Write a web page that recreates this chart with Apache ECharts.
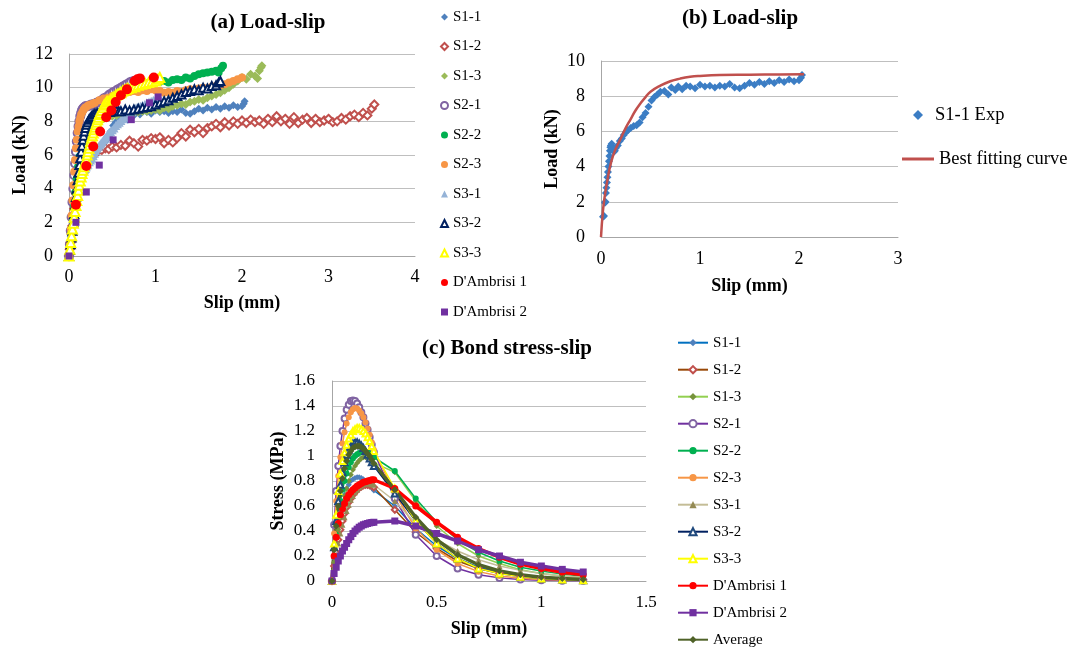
<!DOCTYPE html>
<html>
<head>
<meta charset="utf-8">
<script src="https://cdn.jsdelivr.net/npm/echarts@6/dist/echarts.min.js"></script>
<style>
html,body{margin:0;padding:0;background:#fff;}
#chart{width:1070px;height:648px;}
</style>
</head>
<body>
<div id="chart"></div>
<script>
// ---------- (a) & (b) Load-slip data : [slip (mm), load (kN)] ----------
const loadS1_1 = [[0.02,1.15],[0.03,1.2],[0.04,1.95],[0.045,2.0],[0.05,2.5],[0.055,2.8],[0.06,3.1],[0.065,3.4],[0.07,3.7],[0.075,4.0],[0.08,4.3],[0.085,4.6],[0.09,4.9],[0.095,5.1],[0.1,5.2],[0.108,5.3],[0.12,5.0],[0.13,4.85],[0.14,4.9],[0.15,5.05],[0.17,5.2],[0.19,5.45],[0.21,5.6],[0.23,5.8],[0.25,5.95],[0.27,6.05],[0.3,6.2],[0.33,6.3],[0.36,6.35],[0.39,6.5],[0.42,6.8],[0.45,7.05],[0.48,7.4],[0.51,7.75],[0.54,7.95],[0.57,8.1],[0.6,8.25],[0.64,8.3],[0.68,8.1],[0.71,8.5],[0.75,8.35],[0.78,8.55],[0.82,8.4],[0.86,8.6],[0.9,8.55],[0.95,8.45],[1.0,8.65],[1.05,8.55],[1.1,8.6],[1.15,8.5],[1.2,8.6],[1.25,8.55],[1.3,8.7],[1.35,8.5],[1.4,8.45],[1.45,8.6],[1.5,8.75],[1.55,8.65],[1.6,8.8],[1.65,8.7],[1.7,8.85],[1.75,8.75],[1.8,8.9],[1.85,8.8],[1.9,8.95],[1.95,8.85],[2.0,8.9],[2.02,9.05],[2.03,9.2]];
const loadS1_2 = [[0,0],[0.01,0.4],[0.02,0.8],[0.03,1.3],[0.04,1.8],[0.05,2.3],[0.06,2.8],[0.07,3.25],[0.08,3.7],[0.09,4.1],[0.1,4.5],[0.11,4.8],[0.12,5.1],[0.135,5.35],[0.15,5.6],[0.165,5.75],[0.18,5.9],[0.2,5.95],[0.22,6.0],[0.24,6.1],[0.26,6.1],[0.28,6.0],[0.3,6.05],[0.32,6.2],[0.34,6.25],[0.38,6.3],[0.42,6.4],[0.46,6.35],[0.5,6.5],[0.55,6.45],[0.6,6.6],[0.65,6.55],[0.7,6.85],[0.75,6.7],[0.8,6.5],[0.85,6.9],[0.9,6.85],[0.95,7.0],[1.0,6.95],[1.05,7.05],[1.1,6.7],[1.15,6.9],[1.2,6.75],[1.25,7.0],[1.3,7.3],[1.35,7.1],[1.4,7.5],[1.45,7.35],[1.5,7.55],[1.55,7.3],[1.6,7.6],[1.65,7.7],[1.7,7.85],[1.75,7.65],[1.8,7.95],[1.85,7.75],[1.9,8.0],[1.95,7.85],[2.0,8.05],[2.05,7.9],[2.1,8.1],[2.15,7.95],[2.2,8.05],[2.25,7.85],[2.3,8.15],[2.35,7.95],[2.4,8.3],[2.45,8.0],[2.5,8.15],[2.55,7.85],[2.6,8.25],[2.65,7.9],[2.7,8.1],[2.75,8.2],[2.8,7.9],[2.85,8.15],[2.9,7.95],[2.95,8.05],[3.0,8.15],[3.05,7.95],[3.1,8.0],[3.15,8.2],[3.2,8.1],[3.25,8.3],[3.3,8.4],[3.35,8.25],[3.4,8.5],[3.45,8.35],[3.5,8.75],[3.53,9.0]];
const loadS1_3 = [[0,0],[0.015,0.7],[0.03,1.5],[0.045,2.3],[0.06,3.2],[0.075,4.0],[0.09,4.8],[0.105,5.4],[0.12,6.0],[0.135,6.4],[0.15,6.8],[0.175,7.1],[0.2,7.3],[0.225,7.45],[0.25,7.6],[0.275,7.7],[0.3,7.8],[0.325,7.9],[0.35,8.0],[0.375,8.1],[0.4,8.15],[0.45,8.25],[0.5,8.3],[0.55,8.35],[0.6,8.4],[0.65,8.45],[0.7,8.45],[0.75,8.5],[0.8,8.55],[0.85,8.6],[0.9,8.6],[0.95,8.65],[1.0,8.7],[1.05,8.65],[1.1,8.8],[1.15,8.75],[1.2,8.9],[1.25,8.95],[1.3,9.05],[1.35,9.0],[1.4,9.15],[1.45,9.2],[1.5,9.3],[1.55,9.25],[1.6,9.4],[1.65,9.5],[1.7,9.6],[1.75,9.7],[1.8,9.85],[1.85,10.0],[1.9,10.2],[1.95,10.4],[2.0,10.6],[2.05,10.5],[2.1,10.8],[2.15,10.7],[2.18,10.55],[2.2,11.0],[2.22,11.2],[2.23,11.3]];
const loadS2_1 = [[0,0],[0.01,0.7],[0.02,1.5],[0.03,2.3],[0.04,3.2],[0.05,4.0],[0.06,4.8],[0.07,5.5],[0.08,6.2],[0.09,6.8],[0.1,7.3],[0.11,7.7],[0.12,8.0],[0.13,8.3],[0.14,8.5],[0.15,8.65],[0.16,8.75],[0.17,8.8],[0.18,8.85],[0.19,8.9],[0.2,8.9],[0.22,8.9],[0.24,8.95],[0.26,9.0],[0.28,9.0],[0.3,9.05],[0.32,9.1],[0.34,9.15],[0.36,9.2],[0.38,9.25],[0.4,9.35],[0.42,9.4],[0.45,9.5],[0.47,9.6],[0.5,9.7],[0.52,9.75],[0.55,9.85],[0.57,9.9],[0.6,10.0],[0.62,10.05],[0.65,10.15],[0.67,10.2],[0.7,10.3],[0.72,10.35],[0.75,10.4]];
const loadS2_2 = [[0,0],[0.015,0.7],[0.03,1.4],[0.045,2.2],[0.06,3.0],[0.075,3.8],[0.09,4.6],[0.105,5.3],[0.12,5.9],[0.135,6.4],[0.15,6.8],[0.165,7.1],[0.18,7.3],[0.195,7.45],[0.21,7.6],[0.23,7.7],[0.25,7.8],[0.275,7.9],[0.3,8.0],[0.325,8.15],[0.35,8.3],[0.375,8.5],[0.4,8.7],[0.425,8.85],[0.45,9.0],[0.475,9.15],[0.5,9.3],[0.525,9.4],[0.55,9.5],[0.575,9.6],[0.6,9.7],[0.625,9.8],[0.65,9.85],[0.675,9.9],[0.7,9.95],[0.725,10.0],[0.75,10.05],[0.775,10.1],[0.8,10.1],[0.85,10.15],[0.9,10.25],[0.95,10.2],[1.0,10.3],[1.05,10.35],[1.1,10.4],[1.15,10.3],[1.2,10.45],[1.25,10.5],[1.3,10.45],[1.35,10.6],[1.4,10.55],[1.45,10.7],[1.5,10.8],[1.55,10.85],[1.6,10.9],[1.65,10.95],[1.7,11.0],[1.73,10.9],[1.76,11.15],[1.78,11.3]];
const loadS2_3 = [[0,0],[0.01,0.8],[0.02,1.6],[0.03,2.4],[0.04,3.3],[0.05,4.2],[0.06,5.0],[0.07,5.7],[0.08,6.4],[0.09,6.9],[0.1,7.4],[0.11,7.7],[0.12,8.0],[0.13,8.2],[0.14,8.4],[0.155,8.55],[0.17,8.7],[0.185,8.8],[0.2,8.85],[0.225,8.95],[0.25,9.0],[0.275,9.05],[0.3,9.1],[0.35,9.25],[0.4,9.35],[0.45,9.4],[0.5,9.5],[0.55,9.55],[0.6,9.6],[0.65,9.7],[0.7,9.75],[0.75,9.8],[0.8,9.75],[0.85,9.85],[0.9,9.8],[0.95,9.9],[1.0,9.85],[1.05,9.8],[1.1,9.7],[1.15,9.75],[1.2,9.7],[1.25,9.8],[1.3,9.75],[1.35,9.85],[1.4,9.9],[1.45,9.85],[1.5,9.95],[1.55,10.0],[1.6,9.95],[1.65,10.05],[1.7,10.1],[1.75,10.15],[1.8,10.2],[1.85,10.3],[1.9,10.4],[1.95,10.5],[2.0,10.6]];
const loadS3_1 = [[0,0],[0.01,0.4],[0.02,0.8],[0.03,1.25],[0.04,1.7],[0.05,2.15],[0.06,2.6],[0.07,3.0],[0.08,3.4],[0.09,3.7],[0.1,4.0],[0.11,4.25],[0.12,4.5],[0.13,4.65],[0.14,4.8],[0.15,4.9],[0.16,5.0],[0.17,5.1],[0.18,5.15],[0.19,5.2],[0.2,5.3],[0.21,5.4],[0.22,5.45],[0.235,5.6],[0.25,5.7],[0.265,5.8],[0.28,5.95],[0.295,6.1],[0.31,6.25],[0.325,6.4],[0.34,6.5],[0.355,6.6],[0.37,6.7],[0.385,6.8],[0.4,6.9],[0.415,7.0],[0.43,7.1],[0.445,7.2],[0.46,7.3],[0.48,7.4],[0.5,7.5],[0.52,7.6],[0.54,7.75],[0.56,7.85],[0.58,7.95],[0.6,8.05],[0.62,8.15],[0.64,8.25],[0.66,8.35],[0.68,8.4],[0.7,8.5],[0.725,8.6],[0.75,8.7],[0.775,8.8],[0.8,8.85],[0.825,8.9],[0.85,8.95],[0.875,9.0],[0.9,9.1],[0.925,9.15],[0.95,9.2],[0.975,9.25],[1.0,9.3],[1.025,9.35],[1.05,9.4]];
const loadS3_2 = [[0,0],[0.01,0.35],[0.02,0.7],[0.03,1.1],[0.04,1.5],[0.05,2.0],[0.06,2.5],[0.07,3.0],[0.08,3.5],[0.09,4.0],[0.1,4.5],[0.11,4.95],[0.12,5.4],[0.13,5.8],[0.14,6.2],[0.15,6.55],[0.16,6.9],[0.17,7.15],[0.18,7.4],[0.19,7.6],[0.2,7.8],[0.215,7.95],[0.23,8.1],[0.245,8.2],[0.26,8.3],[0.28,8.4],[0.3,8.45],[0.325,8.5],[0.35,8.5],[0.375,8.5],[0.4,8.55],[0.425,8.6],[0.45,8.6],[0.475,8.55],[0.5,8.6],[0.525,8.65],[0.55,8.65],[0.575,8.6],[0.6,8.6],[0.65,8.7],[0.7,8.65],[0.75,8.7],[0.8,8.75],[0.85,8.8],[0.9,8.85],[0.95,8.9],[1.0,9.0],[1.05,9.1],[1.1,9.2],[1.15,9.25],[1.2,9.4],[1.25,9.5],[1.3,9.6],[1.35,9.75],[1.4,9.8],[1.45,9.9],[1.5,9.85],[1.55,10.0],[1.6,9.95],[1.65,10.1],[1.7,10.15],[1.73,10.3],[1.75,10.4]];
const loadS3_3 = [[0,0],[0.01,0.4],[0.02,0.8],[0.03,1.2],[0.04,1.6],[0.05,1.95],[0.06,2.3],[0.07,2.65],[0.08,3.0],[0.09,3.3],[0.1,3.6],[0.11,3.9],[0.12,4.2],[0.13,4.45],[0.14,4.7],[0.15,4.9],[0.16,5.1],[0.17,5.3],[0.18,5.45],[0.19,5.6],[0.2,5.75],[0.21,6.0],[0.22,6.2],[0.23,6.4],[0.24,6.6],[0.25,6.8],[0.26,7.0],[0.27,7.15],[0.28,7.3],[0.29,7.5],[0.3,7.65],[0.31,7.8],[0.32,7.95],[0.33,8.1],[0.34,8.25],[0.35,8.4],[0.36,8.5],[0.375,8.65],[0.39,8.8],[0.405,8.95],[0.42,9.05],[0.435,9.15],[0.45,9.2],[0.48,9.3],[0.5,9.4],[0.52,9.45],[0.54,9.55],[0.56,9.6],[0.58,9.65],[0.6,9.7],[0.62,9.8],[0.64,9.85],[0.66,9.9],[0.68,9.95],[0.72,10.0],[0.76,10.05],[0.8,10.15],[0.84,10.2],[0.88,10.25],[0.92,10.3],[0.96,10.35],[1.0,10.4],[1.03,10.5],[1.05,10.6]];
const loadDA1 = [[0.08,3.05],[0.2,5.35],[0.28,6.5],[0.36,7.4],[0.43,8.25],[0.49,8.65],[0.54,9.15],[0.6,9.55],[0.67,9.9],[0.76,10.4],[0.79,10.5],[0.82,10.55],[0.98,10.6]];
const loadDA2 = [[0,0],[0.08,2.0],[0.2,3.8],[0.35,5.4],[0.51,6.9],[0.72,8.1],[0.93,9.1],[1.03,9.45]];
// (b) best fitting curve
const fitCurve = [[0,0],[0.02,1.5],[0.04,2.4],[0.07,3.4],[0.1,4.2],[0.14,4.9],[0.2,5.6],[0.25,6.2],[0.3,6.7],[0.35,7.2],[0.4,7.6],[0.45,7.95],[0.5,8.25],[0.6,8.6],[0.7,8.85],[0.8,9.0],[0.9,9.1],[1.0,9.15],[1.2,9.2],[1.5,9.22],[1.8,9.24],[2.05,9.25]];

// ---------- (c) Bond stress-slip data ----------
const bondSlip = [0,0.01,0.02,0.03,0.04,0.05,0.06,0.07,0.08,0.09,0.10,0.11,0.12,0.13,0.14,0.15,0.16,0.17,0.18,0.19,0.20,0.3,0.4,0.5,0.6,0.7,0.8,0.9,1.0,1.1,1.2];
const bondS1_1 = [0,0.18,0.33,0.45,0.55,0.63,0.69,0.74,0.77,0.80,0.815,0.825,0.83,0.83,0.825,0.815,0.80,0.785,0.765,0.745,0.725,0.60,0.42,0.28,0.18,0.11,0.07,0.045,0.03,0.02,0.013];
const bondS1_2 = [0,0.12,0.23,0.33,0.41,0.48,0.54,0.59,0.63,0.66,0.69,0.71,0.73,0.745,0.755,0.765,0.77,0.77,0.765,0.76,0.75,0.57,0.39,0.26,0.16,0.10,0.065,0.04,0.025,0.016,0.01];
const bondS1_3 = [0,0.15,0.29,0.41,0.51,0.60,0.68,0.74,0.80,0.85,0.89,0.92,0.945,0.965,0.98,0.99,0.99,0.985,0.975,0.96,0.945,0.87,0.64,0.44,0.30,0.20,0.14,0.09,0.06,0.04,0.028];
const bondS2_1 = [0,0.45,0.72,0.92,1.08,1.20,1.30,1.37,1.41,1.44,1.445,1.44,1.42,1.39,1.35,1.31,1.26,1.21,1.15,1.09,1.03,0.66,0.37,0.20,0.10,0.05,0.025,0.012,0.006,0.003,0.002];
const bondS2_2 = [0,0.2,0.37,0.52,0.64,0.73,0.80,0.86,0.91,0.95,0.98,1.0,1.015,1.025,1.03,1.035,1.035,1.03,1.02,1.005,0.99,0.88,0.66,0.47,0.33,0.23,0.16,0.11,0.08,0.055,0.038];
const bondS2_3 = [0,0.38,0.64,0.84,0.99,1.10,1.19,1.26,1.31,1.35,1.375,1.385,1.38,1.365,1.34,1.31,1.27,1.22,1.17,1.11,1.05,0.70,0.42,0.25,0.14,0.075,0.04,0.022,0.012,0.007,0.004];
const bondS3_1 = [0,0.11,0.21,0.30,0.38,0.45,0.51,0.56,0.61,0.65,0.68,0.71,0.73,0.75,0.765,0.775,0.78,0.78,0.78,0.775,0.77,0.64,0.46,0.33,0.24,0.17,0.12,0.085,0.06,0.04,0.03];
const bondS3_2 = [0,0.27,0.48,0.64,0.77,0.87,0.95,1.01,1.05,1.08,1.10,1.11,1.11,1.10,1.085,1.065,1.04,1.01,0.98,0.95,0.92,0.70,0.48,0.30,0.18,0.10,0.06,0.035,0.02,0.012,0.007];
const bondS3_3 = [0,0.30,0.53,0.72,0.86,0.96,1.03,1.09,1.14,1.17,1.20,1.215,1.225,1.225,1.215,1.20,1.18,1.15,1.12,1.08,1.04,0.74,0.48,0.30,0.18,0.10,0.06,0.035,0.02,0.012,0.007];
const bondDA1  = [0,0.2,0.35,0.46,0.53,0.58,0.62,0.66,0.69,0.71,0.73,0.745,0.76,0.77,0.78,0.79,0.795,0.80,0.805,0.81,0.81,0.74,0.60,0.47,0.35,0.26,0.19,0.135,0.10,0.07,0.05];
const bondDA2  = [0,0.06,0.11,0.16,0.20,0.24,0.27,0.30,0.33,0.355,0.38,0.40,0.415,0.43,0.44,0.45,0.455,0.46,0.465,0.468,0.47,0.48,0.44,0.38,0.32,0.25,0.20,0.15,0.12,0.093,0.072];
const bondAvg  = [0,0.25,0.44,0.60,0.72,0.82,0.90,0.96,1.01,1.04,1.065,1.075,1.08,1.08,1.07,1.06,1.04,1.02,1.0,0.97,0.94,0.73,0.51,0.33,0.21,0.13,0.08,0.05,0.03,0.02,0.012];

const FONT = 'Liberation Serif';
const chart = echarts.init(document.getElementById('chart'));

function xAx(grid, min, max, interval, gap, margin, fs) {
  return {gridIndex:grid, type:'value', min:min, max:max, interval:interval,
    name:'Slip (mm)', nameLocation:'middle', nameGap:gap,
    nameTextStyle:{fontFamily:FONT, fontWeight:'bold', fontSize:18, color:'#000'},
    axisLine:{show:true, onZero:false, lineStyle:{color:'#A6A6A6', width:1}},
    axisTick:{show:false}, splitLine:{show:false},
    axisLabel:{fontFamily:FONT, fontSize:fs, color:'#000', margin:margin}};
}
function yAx(grid, name, min, max, interval, gap, margin, fs) {
  return {gridIndex:grid, type:'value', min:min, max:max, interval:interval,
    name:name, nameLocation:'middle', nameGap:gap,
    nameTextStyle:{fontFamily:FONT, fontWeight:'bold', fontSize:18, color:'#000'},
    axisLine:{show:true, lineStyle:{color:'#A6A6A6', width:1}},
    axisTick:{show:false},
    splitLine:{show:true, lineStyle:{color:'#BFBFBF', width:1}},
    axisLabel:{fontFamily:FONT, fontSize:fs, color:'#000', margin:margin}};
}

function sc(name, data, symbol, color, size, empty) {
  return {type:'scatter', name:name, xAxisIndex:0, yAxisIndex:0, data:data,
    symbol:symbol, symbolSize:size,
    itemStyle: empty ? {color:color, borderColor:color, borderWidth:1.5, opacity:1}
                     : {color:color, opacity:1},
    emphasis:{disabled:true}};
}
function ln(name, vals, symbol, lineColor, markColor, lw, size, empty) {
  return {type:'line', name:name, xAxisIndex:2, yAxisIndex:2,
    data: bondSlip.map((x,i)=>[x, vals[i]]),
    symbol:symbol, symbolSize:size, showSymbol:true,
    lineStyle:{color:lineColor, width:lw},
    itemStyle: empty ? {color:markColor, borderColor:markColor, borderWidth:1.2}
                     : {color:markColor, borderWidth:0},
    emphasis:{disabled:true}};
}

const aNames = ['S1-1','S1-2','S1-3','S2-1','S2-2','S2-3','S3-1','S3-2','S3-3',"D'Ambrisi 1","D'Ambrisi 2"];
const cNames = aNames.concat(['Average']).map(n=>'c:'+n);

const option = {
  backgroundColor:'#fff',
  animation:false,
  graphic:[
    {type:'text', style:{text:'(a) Load-slip', x:268, y:23, textAlign:'center', textVerticalAlign:'middle', font:'bold 21px "Liberation Serif"', fill:'#000'}},
    {type:'text', style:{text:'(b) Load-slip', x:740, y:19, textAlign:'center', textVerticalAlign:'middle', font:'bold 21px "Liberation Serif"', fill:'#000'}},
    {type:'text', style:{text:'(c) Bond stress-slip', x:507, y:349, textAlign:'center', textVerticalAlign:'middle', font:'bold 21px "Liberation Serif"', fill:'#000'}}
  ],
  grid:[
    {left:69, top:54, width:346, height:202},
    {left:601, top:61, width:297, height:176},
    {left:332, top:381, width:314, height:200}
  ],
  xAxis:[
    xAx(0,0,4,1,38,12,18),
    xAx(1,0,3,1,40,13,18),
    xAx(2,0,1.5,0.5,39,13,17)
  ],
  yAxis:[
    yAx(0,'Load (kN)',0,12,2,40,16,18),
    yAx(1,'Load (kN)',0,10,2,40,16,18),
    yAx(2,'Stress (MPa)',0,1.6,0.2,45,17,17)
  ],
  legend:[
    {orient:'vertical', left:440, top:9, padding:0, itemGap:13.5, itemWidth:7, itemHeight:7,
     data:aNames, selectedMode:false,
     textStyle:{fontFamily:FONT, fontSize:15, color:'#000', lineHeight:16}},
    {orient:'vertical', left:913, top:105, padding:0, itemWidth:10, itemHeight:10,
     data:['S1-1 Exp'], selectedMode:false,
     textStyle:{fontFamily:FONT, fontSize:18.5, color:'#000', lineHeight:20, padding:[0,0,0,7]}},
    {orient:'vertical', left:902, top:149, padding:0, itemWidth:32, itemHeight:3,
     data:[{name:'Best fitting curve', icon:'rect'}], selectedMode:false,
     textStyle:{fontFamily:FONT, fontSize:18.5, color:'#000', lineHeight:20}},
    {orient:'vertical', left:677, top:334.7, height:320, padding:0, itemGap:11, itemWidth:30, itemHeight:9,
     data:cNames, selectedMode:false, formatter:n=>n.slice(2),
     textStyle:{fontFamily:FONT, fontSize:15, color:'#000', lineHeight:16}}
  ],
  series:[
    sc('S1-1', loadS1_1, 'diamond', '#4F81BD', 8, false),
    sc('S1-2', loadS1_2, 'emptyDiamond', '#C0504D', 8, true),
    sc('S1-3', loadS1_3, 'diamond', '#9BBB59', 9, false),
    sc('S2-1', loadS2_1, 'emptyCircle', '#8064A2', 8, true),
    sc('S2-2', loadS2_2, 'circle', '#00B050', 8, false),
    sc('S2-3', loadS2_3, 'circle', '#F79646', 8, false),
    sc('S3-1', loadS3_1, 'triangle', '#95B3D7', 9, false),
    sc('S3-2', loadS3_2, 'emptyTriangle', '#002060', 8, true),
    sc('S3-3', loadS3_3, 'emptyTriangle', '#FFFF00', 9, true),
    sc("D'Ambrisi 1", loadDA1, 'circle', '#FF0000', 10, false),
    sc("D'Ambrisi 2", loadDA2, 'rect', '#7030A0', 7, false),

    {type:'scatter', name:'S1-1 Exp', xAxisIndex:1, yAxisIndex:1, data:loadS1_1,
     symbol:'diamond', symbolSize:8, itemStyle:{color:'#3B7DC4', opacity:1}, emphasis:{disabled:true}},
    {type:'line', name:'Best fitting curve', xAxisIndex:1, yAxisIndex:1, data:fitCurve,
     smooth:true, showSymbol:false, symbol:'none', lineStyle:{color:'#C0504D', width:2.5},
     itemStyle:{color:'#C0504D'}, emphasis:{disabled:true}},

    ln('c:S1-1', bondS1_1, 'diamond', '#0070C0', '#4F81BD', 1.5, 6, false),
    ln('c:S1-2', bondS1_2, 'emptyDiamond', '#984807', '#C0504D', 1.5, 6, true),
    ln('c:S1-3', bondS1_3, 'diamond', '#92D050', '#77933C', 1.5, 6, false),
    ln('c:S2-1', bondS2_1, 'emptyCircle', '#7030A0', '#8064A2', 1.5, 6, true),
    ln('c:S2-2', bondS2_2, 'circle', '#00B050', '#00B050', 1.5, 6, false),
    ln('c:S2-3', bondS2_3, 'circle', '#F79646', '#F79646', 1.5, 6, false),
    ln('c:S3-1', bondS3_1, 'triangle', '#C4BD97', '#948A54', 1.5, 6, false),
    ln('c:S3-2', bondS3_2, 'emptyTriangle', '#002060', '#1F497D', 1.5, 6, true),
    ln('c:S3-3', bondS3_3, 'emptyTriangle', '#FFFF00', '#FFFF00', 1.5, 6, true),
    ln("c:D'Ambrisi 1", bondDA1, 'circle', '#FF0000', '#FF0000', 3.5, 7, false),
    ln("c:D'Ambrisi 2", bondDA2, 'rect', '#7030A0', '#7030A0', 3.5, 7, false),
    ln('c:Average', bondAvg, 'diamond', '#4F6228', '#4F6228', 3.5, 7, false)
  ]
};
chart.setOption(option);
</script>
</body>
</html>
